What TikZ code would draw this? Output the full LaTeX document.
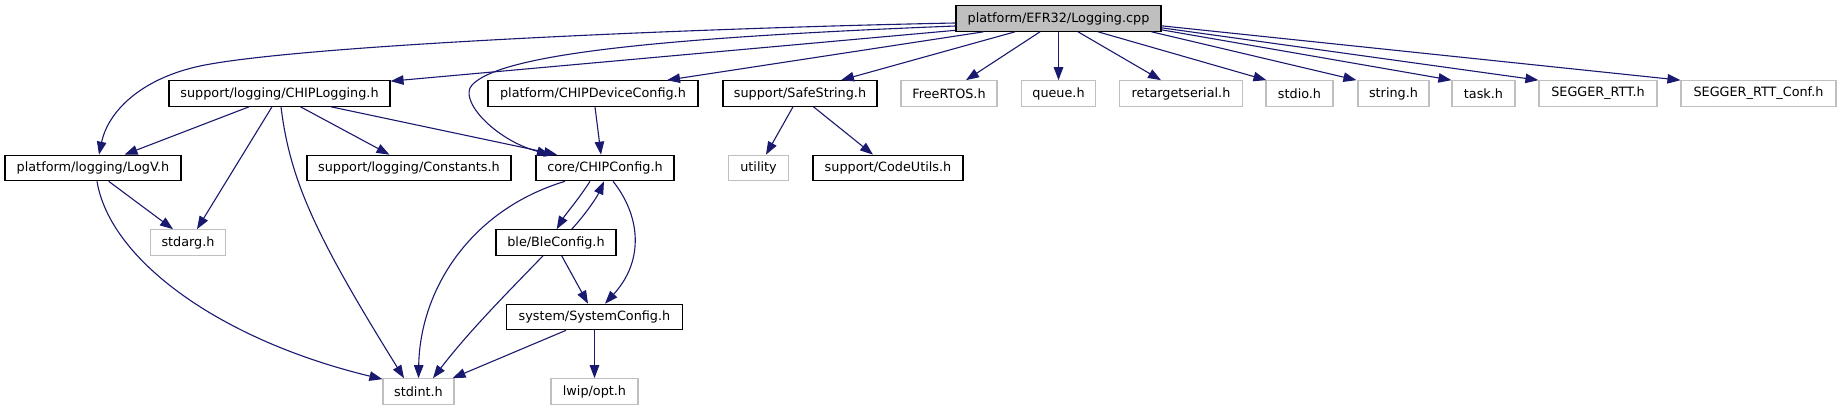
\documentclass[tikz,border=0pt]{standalone}
\usepackage{fontspec}
\setmainfont{DejaVu Sans}
\usetikzlibrary{arrows.meta}
\definecolor{grey75}{HTML}{BFBFBF}
\definecolor{edgecol}{HTML}{191970}
\newcommand{\dxfont}{\fontsize{12.8}{14}\selectfont}
\begin{document}
\begin{tikzpicture}[x=1pt,y=-1pt,
  box/.style={draw=black, line width=1.15pt, minimum height=25.5pt, inner sep=0pt, font=\dxfont, text=black},
  gbox/.style={box, draw=grey75},
  edge/.style={draw=edgecol, line width=1.1pt, -{Triangle[length=13pt,width=9.5pt]}}]
\fill[white] (0,0) rectangle (1841,411);
\useasboundingbox (0,0) rectangle (1841,411);
% row 0
\node[box, fill=grey75, minimum width=205pt] (logging) at (1058.5,18.5) {platform/EFR32/Logging.cpp};
% row 1
\node[box, minimum width=221pt] (chiplog) at (279.5,93.5) {support/logging/CHIPLogging.h};
\node[box, minimum width=210pt] (devcfg) at (593,93.5) {platform/CHIPDeviceConfig.h};
\node[box, minimum width=154pt] (safestr) at (800,93.5) {support/SafeString.h};
\node[gbox, minimum width=96pt] (freertos) at (949,93.5) {FreeRTOS.h};
\node[gbox, minimum width=74.5pt] (queue) at (1058.5,93.5) {queue.h};
\node[gbox, minimum width=122.5pt] (retarget) at (1181,93.5) {retargetserial.h};
\node[gbox, minimum width=67pt] (stdio) at (1299.5,93.5) {stdio.h};
\node[gbox, minimum width=71pt] (string) at (1393.5,93.5) {string.h};
\node[gbox, minimum width=63pt] (task) at (1483.5,93.5) {task.h};
\node[gbox, minimum width=118pt] (rtt) at (1598,93.5) {SEGGER\_RTT.h};
\node[gbox, minimum width=155pt] (rttconf) at (1758.5,93.5) {SEGGER\_RTT\_Conf.h};
% row 2
\node[box, minimum width=176pt] (logv) at (93,168) {platform/logging/LogV.h};
\node[box, minimum width=204pt] (consts) at (409,168) {support/logging/Constants.h};
\node[box, minimum width=138pt] (chipcfg) at (605,168) {core/CHIPConfig.h};
\node[gbox, minimum width=60pt] (utility) at (758.5,168) {utility};
\node[box, minimum width=150pt] (codeutils) at (888,168) {support/CodeUtils.h};
% row 3
\node[gbox, minimum width=75pt] (stdarg) at (188,242.5) {stdarg.h};
\node[box, minimum width=120pt] (ble) at (556,242.5) {ble/BleConfig.h};
% row 4
\node[box, minimum width=176pt] (syscfg) at (594.5,317) {system/SystemConfig.h};
% row 5
\node[gbox, minimum width=71pt] (stdint) at (418.5,391.5) {stdint.h};
\node[gbox, minimum width=87pt] (lwip) at (594.5,391.5) {lwip/opt.h};

% edges from Logging.cpp
\draw[edge] ([yshift=-4.5pt]logging.west) .. controls (700,28) and (300,45) .. (200,66)
  .. controls (140,79) and (108,112) .. ([xshift=6pt]logv.north);
\draw[edge] ([yshift=-7.5pt]logging.west) .. controls (650,38) and (500,55) .. (472,85)
  .. controls (458,100) and (495,140) .. ([xshift=-55pt]chipcfg.north);
\draw[edge] ([yshift=1.5pt]logging.south west) -- ([yshift=-1pt]chiplog.north east);
\draw[edge] ([xshift=-75pt]logging.south) -- ([xshift=74pt]devcfg.north);
\draw[edge] ([xshift=-43.5pt]logging.south) -- ([xshift=41pt]safestr.north);
\draw[edge] ([xshift=-18.5pt]logging.south) -- ([xshift=17pt]freertos.north);
\draw[edge] (logging.south) -- (queue.north);
\draw[edge] ([xshift=19.5pt]logging.south) -- ([xshift=-20pt]retarget.north);
\draw[edge] ([xshift=39.5pt]logging.south) -- ([xshift=1pt]stdio.north west);
\draw[edge] ([xshift=-10pt]logging.south east) -- ([xshift=-1pt]string.north west);
\draw[edge] ([yshift=2pt]logging.south east) -- (task.north west);
\draw[edge] ([yshift=4pt]logging.south east) -- (rtt.north west);
\draw[edge] ([yshift=6pt]logging.south east) -- (rttconf.north west);
% from CHIPLogging.h
\draw[edge] ([xshift=-30.5pt]chiplog.south) -- ([xshift=31.5pt]logv.north);
\draw[edge] ([xshift=-7.5pt]chiplog.south) -- ([xshift=9pt]stdarg.north);
\draw[edge] ([xshift=1.5pt]chiplog.south) .. controls (290,180) and (315,235) .. ([xshift=-14.5pt]stdint.north);
\draw[edge] ([xshift=21pt]chiplog.south) -- ([xshift=-19.5pt]consts.north);
\draw[edge] ([xshift=51.5pt]chiplog.south) -- ([xshift=-48pt]chipcfg.north);
% from LogV.h
\draw[edge] ([xshift=15.7pt]logv.south) -- ([xshift=-15pt]stdarg.north);
\draw[edge] ([xshift=4pt]logv.south) .. controls (110,260) and (220,340) .. ([yshift=-1pt]stdint.north west);
% from CHIPDeviceConfig.h
\draw[edge] ([xshift=2pt]devcfg.south) -- ([xshift=-4pt]chipcfg.north);
% from SafeString.h
\draw[edge] ([xshift=-7pt]safestr.south) -- ([xshift=7.5pt]utility.north);
\draw[edge] ([xshift=13.5pt]safestr.south) -- ([xshift=-15pt]codeutils.north);
% from CHIPConfig.h
\draw[edge] ([xshift=-15pt]chipcfg.south) .. controls (578,200) and (565,215) .. ([xshift=0.7pt]ble.north);
\draw[edge] ([xshift=-40pt]chipcfg.south) .. controls (470,210) and (420,290) .. (stdint.north);
\draw[edge] ([xshift=8pt]chipcfg.south) .. controls (640,215) and (645,260) .. ([xshift=10.5pt]syscfg.north);
% from BleConfig.h
\draw[edge] ([xshift=15.7pt]ble.north) .. controls (585,215) and (597,197) .. ([xshift=-1pt]chipcfg.south);
\draw[edge] ([xshift=5.7pt]ble.south) -- ([xshift=-6.5pt]syscfg.north);
\draw[edge] ([xshift=-13pt]ble.south) .. controls (510,290) and (470,330) .. ([xshift=14.5pt]stdint.north);
% from SystemConfig.h
\draw[edge] ([xshift=-28.5pt]syscfg.south) -- ([xshift=-2pt]stdint.north east);
\draw[edge] (syscfg.south) -- (lwip.north);
\end{tikzpicture}
\end{document}
